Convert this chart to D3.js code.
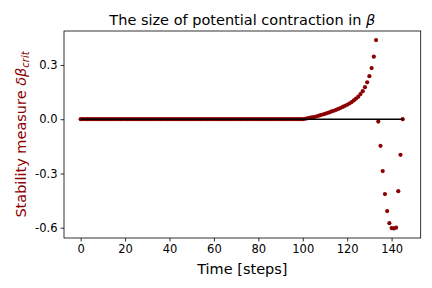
<!DOCTYPE html>
<html>
<head>
    <meta charset="utf-8" />
    <title>Stability measure</title>
    <script type="text/javascript" src="https://cdn.jsdelivr.net/npm/d3@7"></script>
    <style>
        body { margin: 0; background: #fff; }
        svg { display: block; font-family: "DejaVu Sans", sans-serif; }
    </style>
</head>
<body>
    <script type="text/javascript">

        //Width and height
        var w = 432;
        var h = 288;

        //Data: stability measure per time step (step = index)
        var values = [
            0, 0, 0, 0, 0, 0, 0, 0, 0, 0,
            0, 0, 0, 0, 0, 0, 0, 0, 0, 0,
            0, 0, 0, 0, 0, 0, 0, 0, 0, 0,
            0, 0, 0, 0, 0, 0, 0, 0, 0, 0,
            0, 0, 0, 0, 0, 0, 0, 0, 0, 0,
            0, 0, 0, 0, 0, 0, 0, 0, 0, 0,
            0, 0, 0, 0, 0, 0, 0, 0, 0, 0,
            0, 0, 0, 0, 0, 0, 0, 0, 0, 0,
            0, 0, 0, 0, 0, 0, 0, 0, 0, 0,
            0, 0, 0, 0, 0, 0, 0, 0, 0, 0,
            0.000, 0.002, 0.005, 0.007, 0.010, 0.012, 0.015, 0.019, 0.023, 0.026,
            0.030, 0.034, 0.038, 0.043, 0.047, 0.052, 0.057, 0.062, 0.068, 0.074,
            0.080, 0.087, 0.095, 0.104, 0.114, 0.125, 0.139, 0.155, 0.177, 0.204,
            0.238, 0.283, 0.346, 0.438, -0.013, -0.147, -0.287, -0.414, -0.508, -0.575,
            -0.602, -0.604, -0.600, -0.398, -0.197, 0.000
        ];
        var steps = values.map(function (d, i) { return i; });

        var xTicks = [0, 20, 40, 60, 80, 100, 120, 140];
        var yTicks = [0.3, 0.0, -0.3, -0.6];

        var pLeft = 64, pRight = 420.7, pTop = 31, pBottom = 238;

        var xScale = d3.scaleLinear()
            .domain([-7.5, 153.1])
            .range([pLeft, pRight]);

        var yScale = d3.scaleLinear()
            .domain([-0.657, 0.488])
            .range([pBottom, pTop]);

        //Create SVG element
        var svg = d3.select("body")
            .append("svg")
            .attr("width", w)
            .attr("height", h);

        //Dots
        svg.append("g")
            .selectAll("circle")
            .data(values)
            .enter()
            .append("circle")
            .attr("cx", function (d, i) { return xScale(steps[i]); })
            .attr("cy", function (d) { return yScale(d); })
            .attr("r", 2.1)
            .attr("fill", "#8b0000");

        //Zero line on top of the dots
        svg.append("line")
            .attr("x1", xScale(steps[0]))
            .attr("x2", xScale(steps[steps.length - 1]))
            .attr("y1", yScale(0))
            .attr("y2", yScale(0))
            .attr("stroke", "black")
            .attr("stroke-width", 1.5);

        //Axes
        var xAxis = d3.axisBottom(xScale)
            .tickValues(xTicks)
            .tickSize(3.5)
            .tickPadding(3)
            .tickFormat(d3.format("d"));

        var yAxis = d3.axisLeft(yScale)
            .tickValues(yTicks)
            .tickSize(3.5)
            .tickPadding(3)
            .tickFormat(function (d) { return d3.format(".1f")(d).replace("−", "-"); });

        var gx = svg.append("g")
            .attr("transform", "translate(0," + pBottom + ")")
            .call(xAxis);

        var gy = svg.append("g")
            .attr("transform", "translate(" + pLeft + ",0)")
            .call(yAxis);

        [gx, gy].forEach(function (g) {
            g.select(".domain").remove();
            g.selectAll(".tick line").attr("stroke", "black").attr("stroke-width", 0.8);
            g.selectAll(".tick text")
                .attr("fill", "black")
                .style("font-size", "11.5px")
                .style("font-family", "DejaVu Sans");
        });

        //Frame
        svg.append("rect")
            .attr("x", pLeft)
            .attr("y", pTop)
            .attr("width", pRight - pLeft)
            .attr("height", pBottom - pTop)
            .attr("fill", "none")
            .attr("stroke", "black")
            .attr("stroke-width", 0.8);

        //Title
        var title = svg.append("text")
            .attr("x", (pLeft + pRight) / 2)
            .attr("y", 24.5)
            .attr("text-anchor", "middle")
            .style("font-size", "14.5px")
            .attr("fill", "black");
        title.append("tspan").text("The size of potential contraction in ");
        title.append("tspan").style("font-style", "italic").text("β");

        //X label
        svg.append("text")
            .attr("x", (pLeft + pRight) / 2)
            .attr("y", 273.5)
            .attr("text-anchor", "middle")
            .style("font-size", "14.5px")
            .attr("fill", "black")
            .text("Time [steps]");

        //Y label
        var ylab = svg.append("text")
            .attr("transform", "translate(26," + ((pTop + pBottom) / 2) + ") rotate(-90)")
            .attr("text-anchor", "middle")
            .style("font-size", "14.5px")
            .attr("fill", "#8b0000");
        ylab.append("tspan").text("Stability measure ");
        ylab.append("tspan").style("font-style", "italic").text("δβ");
        ylab.append("tspan").style("font-style", "italic").style("font-size", "10px")
            .attr("dy", 3).text("crit");

    </script>
</body>
</html>
